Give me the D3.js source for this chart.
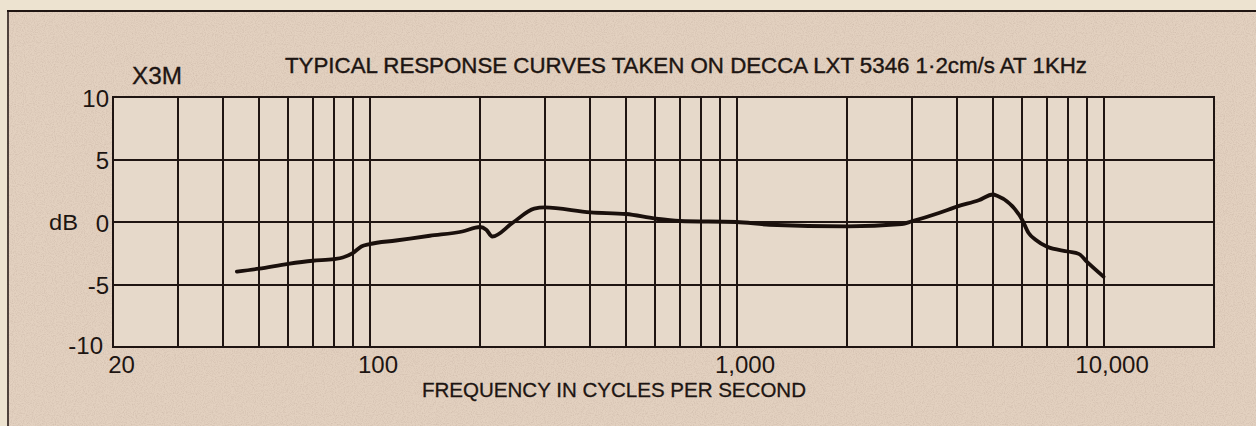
<!DOCTYPE html>
<html>
<head>
<meta charset="utf-8">
<script src="https://cdn.jsdelivr.net/npm/d3@7"></script>
<style>
  html, body { margin: 0; padding: 0; background: #ede3d0; }
  svg { display: block; }
  text { font-family: "Liberation Sans", Arial, Helvetica, sans-serif; fill: #1d1512; }
</style>
</head>
<body>
<svg id="chart" width="1256" height="426"></svg>
<script>
// Measured response of the X3M cartridge, frequency (Hz) against level (dB)
const frequencies = [43.5, 50, 60, 70, 80, 84.5, 90, 95, 100, 118, 146, 179, 200, 208, 216, 245, 281, 300,
  400, 500, 600, 700, 1000, 1230, 2000, 2820, 3000, 3560, 4000, 4570, 5000, 5130, 6000, 6250, 6530,
  7000, 8000, 8560, 9000, 10000];
const responseDb = [-3.97, -3.73, -3.35, -3.1, -2.97, -2.84, -2.49, -1.96, -1.77, -1.48, -1.1, -0.76, -0.4,
  -0.62, -1.16, -0.08, 1.07, 1.17, 0.77, 0.64, 0.27, 0.08, 0.0, -0.22, -0.35, -0.16, 0.05, 0.72, 1.25,
  1.74, 2.2, 2.1, 0.18, -0.88, -1.42, -1.96, -2.36, -2.55, -3.17, -4.37];

const freqLabels = [20, 100, 1000, 10000];
const dbTicks = [10, 5, 0, -5, -10];
const freqDomain = [20, 20000];
const dbDomain = [-10, 10];

const titleText = "TYPICAL RESPONSE CURVES TAKEN ON DECCA LXT 5346 1\u00B72cm/s AT 1KHz";
const modelText = "X3M";
const xTitle = "FREQUENCY IN CYCLES PER SECOND";
const yTitle = "dB";

const svg = d3.select("#chart");
const ink = "#1f1512";

// paper grain
const defs = svg.append("defs");
const grain = defs.append("filter").attr("id", "grain").attr("x", 0).attr("y", 0)
  .attr("width", "100%").attr("height", "100%");
grain.append("feTurbulence").attr("type", "fractalNoise").attr("baseFrequency", 0.9)
  .attr("numOctaves", 2).attr("seed", 4).attr("result", "noise");
grain.append("feColorMatrix").attr("in", "noise").attr("type", "matrix")
  .attr("values", "0 0 0 0 0.35  0 0 0 0 0.25  0 0 0 0 0.2  0 0 0 -1.6 0.95");

// page and frame
svg.append("rect").attr("x", 7).attr("y", 10).attr("width", 1249).attr("height", 416).attr("fill", "#e3d1c0");
svg.append("rect").attr("x", 7).attr("y", 10).attr("width", 1249).attr("height", 416)
  .attr("filter", "url(#grain)").attr("opacity", 0.3);
svg.append("line").attr("x1", 7).attr("x2", 1256).attr("y1", 11).attr("y2", 11)
  .attr("stroke", ink).attr("stroke-width", 2);
svg.append("line").attr("x1", 8).attr("x2", 8).attr("y1", 10).attr("y2", 426)
  .attr("stroke", ink).attr("stroke-width", 1.5);

const plot = { left: 113, right: 1214, top: 97, bottom: 347 };

const x = d3.scaleLog().domain(freqDomain).range([plot.left, plot.right]);
const y = d3.scaleLinear().domain(dbDomain).range([plot.bottom, plot.top]);

svg.append("rect").attr("x", plot.left).attr("y", plot.top)
  .attr("width", plot.right - plot.left).attr("height", plot.bottom - plot.top)
  .attr("fill", "#e6d9ca");

// vertical grid: every log tick between 20 Hz and 20 kHz
svg.append("g").selectAll("line").data(x.ticks()).join("line")
  .attr("x1", d => Math.round(x(d))).attr("x2", d => Math.round(x(d)))
  .attr("y1", plot.top).attr("y2", plot.bottom)
  .attr("stroke", ink).attr("stroke-width", 2);

// horizontal grid
svg.append("g").selectAll("line").data(dbTicks).join("line")
  .attr("x1", plot.left - 1).attr("x2", plot.right + 1)
  .attr("y1", d => Math.round(y(d))).attr("y2", d => Math.round(y(d)))
  .attr("stroke", ink).attr("stroke-width", 2.2);

// frequency labels
const xAxis = svg.append("g").attr("transform", `translate(0,${plot.bottom})`)
  .call(d3.axisBottom(x).tickValues(freqLabels).tickSize(0).tickFormat(d3.format(",")));
xAxis.select(".domain").remove();
xAxis.selectAll(".tick line").remove();
xAxis.selectAll(".tick text").attr("dx", 8).attr("y", 26).attr("dy", 0)
  .style("font-size", "24px").style("fill", "#1d1512");

// dB labels
const yAxis = svg.append("g").attr("transform", `translate(${plot.left},0)`)
  .call(d3.axisLeft(y).tickValues(dbTicks).tickSize(0).tickFormat(d => d));
yAxis.select(".domain").remove();
yAxis.selectAll(".tick line").remove();
yAxis.selectAll(".tick text").attr("x", d => d === -10 ? -10 : -4).attr("dy", d => d === -10 ? 6 : 9)
  .style("font-size", "24px").style("fill", "#1d1512");

// response curve
const line = d3.line().x((d, i) => x(frequencies[i])).y(d => y(d)).curve(d3.curveMonotoneX);
svg.append("path").datum(responseDb).attr("d", line)
  .attr("fill", "none").attr("stroke", "#1a100c").attr("stroke-width", 3.8)
  .attr("stroke-linejoin", "round").attr("stroke-linecap", "round");

// titles
svg.append("text").attr("x", 285).attr("y", 73).attr("textLength", 802).attr("lengthAdjust", "spacingAndGlyphs")
  .style("font-size", "22px").style("stroke", "#1d1512").style("stroke-width", 0.4).text(titleText);
svg.append("text").attr("x", 132).attr("y", 84).attr("textLength", 50).attr("lengthAdjust", "spacingAndGlyphs")
  .style("font-size", "24px").style("stroke", "#1d1512").style("stroke-width", 0.3).text(modelText);
svg.append("text").attr("x", 49).attr("y", 230).attr("textLength", 29).attr("lengthAdjust", "spacingAndGlyphs")
  .style("font-size", "22px").text(yTitle);
svg.append("text").attr("x", 422).attr("y", 397).attr("textLength", 384).attr("lengthAdjust", "spacingAndGlyphs")
  .style("font-size", "21px").style("stroke", "#1d1512").style("stroke-width", 0.3).text(xTitle);
</script>
</body>
</html>
